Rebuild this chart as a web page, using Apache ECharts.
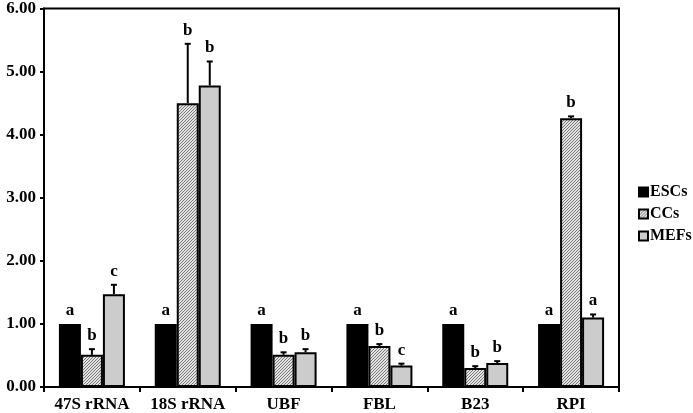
<!DOCTYPE html>
<html>
<head>
<meta charset="utf-8">
<script src="https://cdn.jsdelivr.net/npm/echarts@6/dist/echarts.min.js"></script>
<style>
  html, body { margin: 0; padding: 0; background: #fff; }
  #main { width: 693px; height: 413px; }
</style>
</head>
<body>
<div id="main"></div>
<script>
// data
var categories = ['47S rRNA', '18S rRNA', 'UBF', 'FBL', 'B23', 'RPI'];
var seriesNames = ['ESCs', 'CCs', 'MEFs'];
var escVals = [1.00, 1.00, 1.00, 1.00, 1.00, 1.00];
var escErr  = [0, 0, 0, 0, 0, 0];
var ccVals  = [0.51, 4.50, 0.51, 0.65, 0.30, 4.26];
var ccErr   = [0.09, 0.94, 0.04, 0.03, 0.03, 0.03];
var mefVals = [1.47, 4.78, 0.55, 0.34, 0.38, 1.10];
var mefErr  = [0.15, 0.38, 0.05, 0.03, 0.03, 0.05];
var escLetters = ['a', 'a', 'a', 'a', 'a', 'a'];
var ccLetters  = ['b', 'b', 'b', 'b', 'b', 'b'];
var mefLetters = ['c', 'b', 'b', 'c', 'b', 'a'];
var yTicks = [0, 1, 2, 3, 4, 5, 6];

var font = '"Liberation Serif", "Times New Roman", serif';
var barW = 22;

// fine diagonal hatch for CCs
function makeHatch() {
    var c = document.createElement('canvas');
    c.width = 3; c.height = 3;
    var ctx = c.getContext('2d');
    ctx.fillStyle = '#e2e2e2';
    ctx.fillRect(0, 0, 3, 3);
    ctx.strokeStyle = '#7a7a7a';
    ctx.lineWidth = 1;
    ctx.beginPath();
    ctx.moveTo(0, 3); ctx.lineTo(3, 0);
    ctx.moveTo(-1, 1); ctx.lineTo(1, -1);
    ctx.moveTo(2, 4); ctx.lineTo(4, 2);
    ctx.stroke();
    return c;
}
var hatch = { image: makeHatch(), repeat: 'repeat' };

var vals = [escVals, ccVals, mefVals];
var errs = [escErr, ccErr, mefErr];
var letters = [escLetters, ccLetters, mefLetters];
var fills = ['#000000', hatch, '#cccccc'];

// error bar + letter items
var errData = [];
for (var s = 0; s < 3; s++) {
    for (var i = 0; i < categories.length; i++) {
        errData.push([i, vals[s][i], errs[s][i], s, letters[s][i]]);
    }
}

var series = seriesNames.map(function (name, s) {
    return {
        name: name,
        type: 'bar',
        barWidth: barW,
        barGap: '0%',
        data: vals[s],
        itemStyle: { color: fills[s], borderColor: '#000', borderWidth: 2 },
        emphasis: { disabled: true }
    };
});

series.push({
    type: 'custom',
    z: 5,
    silent: true,
    data: errData,
    encode: { x: 0, y: 1 },
    renderItem: function (params, api) {
        var idx = api.value(0), v = api.value(1), e = api.value(2), s = api.value(3);
        var letter = errData[params.dataIndex][4];
        var x = api.coord([idx, 0])[0] + (s - 1) * barW;
        var yBase = api.coord([idx, v])[1];
        var yTop = api.coord([idx, v + e])[1];
        var kids = [];
        if (e > 0) {
            kids.push({ type: 'line', shape: { x1: x, y1: yBase, x2: x, y2: yTop }, style: { stroke: '#000', lineWidth: 2 } });
            kids.push({ type: 'line', shape: { x1: x - 3, y1: yTop, x2: x + 3, y2: yTop }, style: { stroke: '#000', lineWidth: 2 } });
        }
        kids.push({
            type: 'text',
            style: {
                x: x, y: yTop - 5, text: letter,
                font: 'bold 17px ' + font, fill: '#000',
                align: 'center', verticalAlign: 'bottom'
            }
        });
        return { type: 'group', children: kids };
    }
});

var chart = echarts.init(document.getElementById('main'));
chart.setOption({
    animation: false,
    backgroundColor: '#fff',
    grid: { left: 44, right: 74, top: 6, bottom: 24, show: true, borderColor: '#000', borderWidth: 2 },
    legend: {
        data: seriesNames,
        orient: 'vertical',
        left: 633,
        top: 179,
        itemWidth: 9,
        itemHeight: 9,
        itemGap: 6,
        icon: 'rect',
        selectedMode: false,
        textStyle: { fontFamily: font, fontWeight: 'bold', fontSize: 16, color: '#000', padding: [0, 0, 0, -3] }
    },
    xAxis: {
        type: 'category',
        data: categories,
        axisLine: { lineStyle: { color: '#000', width: 2 } },
        axisTick: { show: true, interval: 0, length: 5, lineStyle: { color: '#000', width: 2 } },
        axisLabel: { interval: 0, margin: 9, color: '#000', fontFamily: font, fontWeight: 'bold', fontSize: 17 }
    },
    yAxis: {
        type: 'value',
        min: yTicks[0],
        max: yTicks[yTicks.length - 1],
        interval: 1,
        splitLine: { show: false },
        axisLine: { show: true, lineStyle: { color: '#000', width: 2 } },
        axisTick: { show: true, length: 4, lineStyle: { color: '#000', width: 2 } },
        axisLabel: {
            margin: 8, color: '#000', fontFamily: font, fontWeight: 'bold', fontSize: 17,
            formatter: function (v) { return v.toFixed(2); }
        }
    },
    series: series
});
</script>
</body>
</html>
